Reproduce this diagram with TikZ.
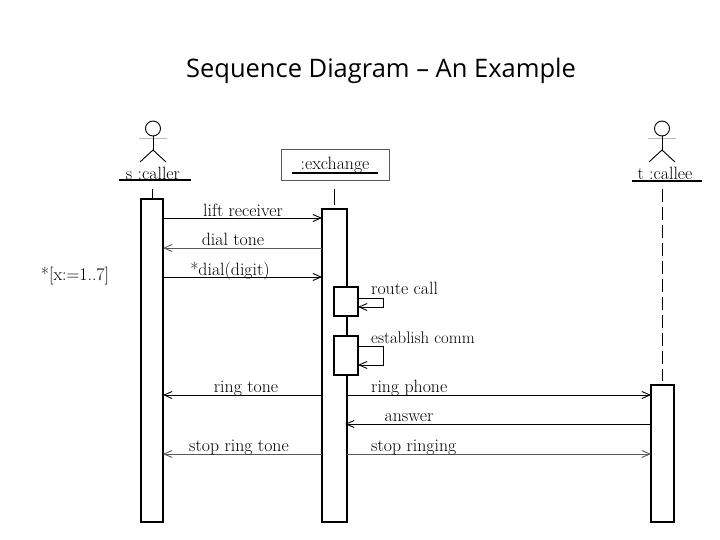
\documentclass[tikz,border=0pt]{standalone}
\usepackage{fontspec}
\usepackage{tikz}
\usetikzlibrary{arrows.meta}
\newfontfamily\titlefont{Open Sans}
\definecolor{msgline}{gray}{0.35}
\definecolor{armline}{gray}{0.72}
\begin{document}
\begin{tikzpicture}[x=1pt,y=-1pt,
    bar/.style={rectangle,draw=black,fill=white,line width=2pt,inner sep=0pt,
      outer sep=0pt,anchor=north west},
    subbar/.style={bar,line width=1.6pt,minimum width=24,},
    objbox/.style={rectangle,draw=black!65,fill=white,line width=1pt,inner sep=0pt,
      outer sep=0pt,minimum width=108,minimum height=31},
    lbl/.style={font=\fontsize{17.8}{19}\selectfont,inner sep=0pt},
    msg/.style={draw=black,line width=0.9pt,-{Straight Barb[length=8pt,width=7pt]}},
    faintmsg/.style={msg,draw=msgline},
    part/.style={line width=0.9pt},
    underbar/.style={line width=2pt}]
  \path[use as bounding box,fill=white] (0,0) rectangle (720,540);
  % title
  \node[font=\titlefont\fontsize{25.5}{27}\selectfont,inner sep=0pt] (title) at (381,71) {Sequence Diagram – An Example};
  % participants
  \node[lbl] (callername) at (153,173) {s :caller};
  \node[objbox] (exchangebox) at (335,165.5) {};
  \node[lbl] (exchangename) at (335,165) {:exchange};
  \node[lbl] (calleename) at (665,173) {t :callee};
  \coordinate (callerunder) at (119,180);
  \coordinate (callerunderend) at (191,180);
  \coordinate (exchangeunder) at (292,173);
  \coordinate (exchangeunderend) at (378,173);
  \coordinate (calleeunder) at (632,181);
  \coordinate (calleeunderend) at (702,181);
  \draw[underbar] (callerunder) -- (callerunderend);
  \draw[underbar] (exchangeunder) -- (exchangeunderend);
  \draw[underbar] (calleeunder) -- (calleeunderend);
  % stick figures
  \foreach \figx/\figname in {153/callerfig,662/calleefig}{
    \node[circle,draw=black,line width=0.9pt,minimum size=15,inner sep=0pt,outer sep=0pt] (\figname) at (\figx,128.5) {};
    \draw[armline,line width=1pt] (\figx-14,139) -- (\figx+14,139);
    \draw[part] (\figname.south) -- (\figx,150);
    \draw[part] (\figx-13,162) -- (\figx,150) -- (\figx+13,162);
  }
  % activation bars
  \node[bar,minimum width=22,minimum height=323] (callerbar) at (141,199) {};
  \node[bar,minimum width=25,minimum height=313] (exchangebar) at (322,209) {};
  \node[bar,minimum width=23,minimum height=137] (calleebar) at (651,385) {};
  \node[subbar,minimum height=29] (routebox) at (334,287) {};
  \node[subbar,minimum height=39] (connbox) at (334,336) {};
  % lifelines
  \coordinate (callerlife) at (152,189);
  \coordinate (exchangelife) at (334,189);
  \coordinate (calleelife) at (662,189);
  \draw[part] (callerlife) -- (callerbar.north -| callerlife);
  \draw[part] (exchangelife) -- (334,205);
  \draw[part,dash pattern=on 13pt off 5pt] (calleelife) -- (662,381);
  % messages
  \draw[msg] (callerbar.east |- 0,218) -- (exchangebar.west |- 0,218);
  \draw[faintmsg] (exchangebar.west |- 0,248) -- (callerbar.east |- 0,248);
  \draw[msg] (callerbar.east |- 0,277) -- (exchangebar.west |- 0,277);
  \draw[msg] (routebox.east |- 0,298) -| (383,307) -- (routebox.east |- 0,307);
  \draw[msg] (connbox.east |- 0,346) -| (383,365) -- (connbox.east |- 0,365);
  \draw[msg] (exchangebar.west |- 0,395) -- (callerbar.east |- 0,395);
  \draw[msg] (exchangebar.east |- 0,395) -- (calleebar.west |- 0,395);
  \draw[msg] (calleebar.west |- 0,424) -- (345,424);
  \draw[faintmsg] (exchangebar.west |- 0,454) -- (callerbar.east |- 0,454);
  \draw[faintmsg] (exchangebar.east |- 0,454) -- (calleebar.west |- 0,454);
  % labels
  \node[lbl,anchor=base] (liftlbl) at (243,216) {lift receiver};
  \node[lbl,anchor=base] (tonelbl) at (233,245) {dial tone};
  \node[lbl,anchor=base] (diallbl) at (230,275) {*dial(digit)};
  \node[lbl,anchor=base] (looplbl) at (75,280) {*[x:=1..7]};
  \node[lbl,anchor=base west] (routelbl) at (371,294) {route call};
  \node[lbl,anchor=base west,font=\fontsize{16.8}{18}\selectfont] (connlbl) at (371,343) {establish comm};
  \node[lbl,anchor=base] (ringtonelbl) at (246,392) {ring tone};
  \node[lbl,anchor=base west] (phonelbl) at (371,392) {ring phone};
  \node[lbl,anchor=base] (answerlbl) at (409,421) {answer};
  \node[lbl,anchor=base] (stoptonelbl) at (239,451) {stop ring tone};
  \node[lbl,anchor=base west] (stopringlbl) at (371,451) {stop ringing};
\end{tikzpicture}
\end{document}
